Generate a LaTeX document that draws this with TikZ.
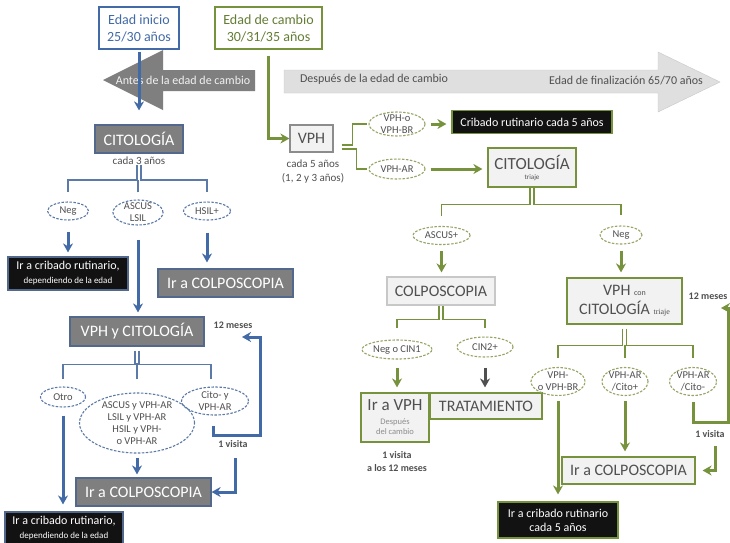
\documentclass[tikz,border=0pt]{standalone}
\usepackage{fontspec}
\setmainfont{Carlito}
\newfontfamily\triajefont{Liberation Serif}
\usetikzlibrary{arrows.meta,shapes.geometric}

\definecolor{azul}{RGB}{66,106,166}
\definecolor{azulC}{RGB}{92,122,168}
\definecolor{azulB}{RGB}{82,104,140}
\definecolor{verde}{RGB}{118,146,60}
\definecolor{verdeC}{RGB}{150,166,102}
\definecolor{grisO}{RGB}{127,127,127}
\definecolor{grisC}{RGB}{242,242,242}
\definecolor{grisF}{RGB}{223,223,223}
\definecolor{grisL}{RGB}{200,200,200}
\definecolor{grisM}{RGB}{140,140,140}
\definecolor{grisT}{RGB}{80,80,80}
\definecolor{negro}{RGB}{18,18,18}

\begin{document}
\begin{tikzpicture}[x=1pt, y=-1pt,
  box/.style={rectangle, draw, align=center, inner sep=0pt, line width=1.2pt},
  boxD/.style={box, fill=grisO, draw=azulB, text=white, font=\fontsize{16}{18}\selectfont},
  boxL/.style={box, fill=grisC, draw=verde, text=grisT, font=\fontsize{16}{18}\selectfont},
  boxK/.style={box, fill=negro, draw=azulB, text=white, font=\fontsize{12}{14}\selectfont},
  txt/.style={align=center, inner sep=0pt, text=grisT, font=\fontsize{11}{13}\selectfont},
  bold/.style={font=\bfseries\fontsize{10}{13}\selectfont},
  ovt/.style={align=center, inner sep=0pt, text=grisT, font=\fontsize{10.5}{12}\selectfont},
  ov/.style={ellipse, inner sep=0pt, line width=1.1pt, dash pattern=on 2.5pt off 1.5pt, label={[ovt]center:#1}},
  ovB/.style={ov={#1}, draw=azulC},
  ovG/.style={ov={#1}, draw=verdeC},
  arB/.style={draw=azul, line width=3pt, -{Stealth[length=9pt,width=10pt]}},
  arG/.style={draw=verde, line width=3pt, -{Stealth[length=9pt,width=10pt]}},
  arK/.style={draw=grisT, line width=3pt, -{Stealth[length=9pt,width=10pt]}},
  brB/.style={draw=azulC, line width=1.5pt},
  brG/.style={draw=verde, line width=1.5pt}
]
\useasboundingbox[fill=white] (0,0) rectangle (730,542);

% age arrows
\fill[grisO] (255,70) -- (163,70) -- (163,50) -- (103,80) -- (163,110) -- (163,91) -- (255,91) -- cycle;
\filldraw[fill=grisF, draw=grisL] (284,70) -- (658,70) -- (658,52) -- (720,82) -- (658,112) -- (658,93) -- (284,93) -- cycle;
\node[txt, text=white!90!grisO, font=\fontsize{12}{14}\selectfont] (antes) at (183,80.5) {Antes de la edad de cambio};
\node[txt, font=\fontsize{12}{14}\selectfont] (despues) at (374,79) {Después de la edad de cambio};
\node[txt, font=\fontsize{12}{14}\selectfont] (final) at (626,81) {Edad de finalización 65/70 años};

\node[box, draw=azul, text=azul, font=\fontsize{14}{17}\selectfont, minimum width=80, minimum height=42] (ini) at (139,28) {Edad inicio\\25/30 años};
\node[box, draw=verde, text=verde!85!black, font=\fontsize{14}{17}\selectfont, minimum width=107, minimum height=42] (cam) at (268.5,28) {Edad de cambio\\30/31/35 años};

% before the change age
\node[boxD, minimum width=88, minimum height=28] (cito1) at (139,139) {CITOLOGÍA};
\node[txt] (c3) at (139,161) {cada 3 años};
\node[ovB=Neg, minimum width=41, minimum height=18] (neg1) at (68,211) {};
\node[ovB={ASCUS\\LSIL}, minimum width=50, minimum height=25] (ascus1) at (138,212.5) {};
\node[ovB=HSIL+, minimum width=47, minimum height=18] (hsil1) at (207,211) {};
\node[boxK, minimum width=120, minimum height=33] (cr1) at (68,273.5) {Ir a cribado rutinario,\\{\fontsize{9}{10}\selectfont dependiendo de la edad}};
\node[boxD, minimum width=135, minimum height=28] (col1) at (225.5,283) {Ir a COLPOSCOPIA};
\node[boxD, minimum width=134, minimum height=29] (vc1) at (137,331.5) {VPH y CITOLOGÍA};
\node[txt, bold] (m12a) at (233,325) {12 meses};
\node[ovB=Otro, minimum width=45, minimum height=20] (otro1) at (63,397) {};
\node[ovB={ASCUS y VPH-AR\\LSIL y VPH-AR\\HSIL y VPH-\\o VPH-AR}, minimum width=115, minimum height=60] (asc2) at (137,423) {};
\node[ovB={Cito- y\\VPH-AR}, minimum width=67, minimum height=28] (cito2) at (215,401) {};
\node[txt, bold] (vis1) at (233,444) {1 visita};
\node[boxD, minimum width=135, minimum height=28] (col2) at (143.5,492) {Ir a COLPOSCOPIA};
\node[boxK, minimum width=118, minimum height=32] (cr2) at (64,528) {Ir a cribado rutinario,\\{\fontsize{9}{10}\selectfont dependiendo de la edad}};

% after the change age
\node[boxL, draw=grisM, minimum width=43, minimum height=27] (vph) at (311.5,138.5) {VPH};
\node[txt, font=\fontsize{11}{14.5}\selectfont] (c5) at (313,171.5) {cada 5 años\\(1, 2 y 3 años)};
\node[ovG={VPH-o\\VPH-BR}, minimum width=56, minimum height=24] (vpho) at (397,124) {};
\node[ovG=VPH-AR, minimum width=56, minimum height=20] (vphar) at (397,169) {};
\node[boxK, draw=verde, minimum width=160, minimum height=23] (crc5) at (532,122) {Cribado rutinario cada 5 años};
\node[boxL, minimum width=88, minimum height=39, font=\fontsize{7}{8}\selectfont] (cit2) at (532,167.5) {{\fontsize{17}{18}\selectfont CITOLOGÍA}\\[2pt]triaje};
\node[ovG=ASCUS+, minimum width=57, minimum height=18] (ascp) at (441.5,235.5) {};
\node[ovG=Neg, minimum width=42, minimum height=18] (neg2) at (621,235) {};
\node[boxL, draw=grisL, minimum width=108, minimum height=28] (colp) at (441,291) {COLPOSCOPIA};
\node[boxL, minimum width=115, minimum height=46] (vcc) at (624.5,301) {VPH {\fontsize{8}{9}\selectfont con}\\[1pt]CITOLOGÍA {\fontsize{8}{9}\selectfont\triajefont triaje}};
\node[txt, bold] (m12b) at (708,296) {12 meses};
\node[ovG=Neg o CIN1, minimum width=70, minimum height=19] (negcin) at (397,349.5) {};
\node[ovG=CIN2+, minimum width=56, minimum height=20] (cin2) at (485,347) {};
\node[boxL, minimum width=68, minimum height=49, font=\fontsize{8.5}{10.5}\selectfont] (irvph) at (395,417.5) {{\fontsize{17}{18}\selectfont Ir a VPH}\\[3pt]\textcolor{grisM}{Después}\\\textcolor{grisM}{del cambio}};
\node[boxL, minimum width=112, minimum height=26] (trat) at (486,406) {TRATAMIENTO};
\node[txt, bold] (v12) at (397,461.5) {1 visita\\a los 12 meses};
\node[ovG={VPH-\\o VPH-BR}, minimum width=54, minimum height=28] (vbr) at (558,381.5) {};
\node[ovG={VPH-AR\\/Cito+}, minimum width=46, minimum height=28] (vcp) at (625,381.5) {};
\node[ovG={VPH-AR\\/Cito-}, minimum width=47, minimum height=28] (vcm) at (693,381.5) {};
\node[txt, bold] (vis2) at (710,434) {1 visita};
\node[boxL, minimum width=133, minimum height=27] (col3) at (628.5,470.5) {Ir a COLPOSCOPIA};
\node[boxK, draw=verde, minimum width=120, minimum height=36] (crr) at (558,520) {Ir a cribado rutinario\\cada 5 años};

\coordinate (lp1) at (260,435);
\coordinate (lp2) at (242,337);
\coordinate (rp1) at (728,422);
\coordinate (rp2) at (721,308);

% blue side
\draw[arB, shorten <=2pt, shorten >=14pt] (ini) -- (cito1);
\draw[brB] ([xshift=-2pt]c3.south) -- ++(0,15) -| ([yshift=9pt]neg1.north);
\draw[brB] ([xshift=2pt]c3.south) -- ++(0,15) -| ([yshift=9pt]hsil1.north);
\draw[brB] ([yshift=7pt]ascus1.north) -- ++(0,-12);
\draw[arB, shorten <=11pt, shorten >=4pt] (neg1) -- (neg1 |- cr1.north);
\draw[arB, shorten <=12pt, shorten >=6pt] (hsil1) -- (hsil1 |- col1.north);
\draw[arB, shorten <=14pt, shorten >=4pt] (ascus1) -- (ascus1 |- vc1.north);
\draw[brB] ([xshift=-2pt,yshift=-4pt]vc1.south) -- ++(0,14) -| ([yshift=7pt]otro1.north);
\draw[brB] ([xshift=2pt,yshift=-4pt]vc1.south) -- ++(0,14) -| ([xshift=-4pt,yshift=7pt]cito2.north);
\draw[brB] ([yshift=13pt]asc2.north) -- ++(0,-16);
\draw[arB, shorten <=8pt, shorten >=7pt] (otro1) -- (otro1 |- cr2.north);
\draw[arB, shorten <=4pt, shorten >=3pt] (asc2) -- (asc2 |- col2.north);
\draw[arB] ([xshift=-2pt,yshift=-10pt]cito2.south) |- (lp1) |- (lp2);
\draw[arB] ([xshift=2pt,yshift=-10pt]vis1.south) |- (col2.east);

% green side
\draw[arG] ([yshift=-6pt]cam.south) |- (vph.west);
\draw[brG] ([xshift=8pt,yshift=-6.5pt]vph.east) -- ++(11,0) |- ([xshift=-1pt]vpho.west);
\draw[brG] ([xshift=8pt,yshift=-10.5pt]vph.east) -- ++(15,0) |- ([xshift=-1pt]vphar.west);
\draw[arG, shorten <=5pt, shorten >=5pt] (vpho) -- (vpho -| crc5.west);
\draw[arG, shorten <=5pt, shorten >=5pt] (vphar) -- (vphar -| cit2.west);
\draw[brG] ([xshift=-2pt]cit2.south) -- ++(0,17) -| ([yshift=10pt]ascp.north);
\draw[brG] ([xshift=2pt]cit2.south) -- ++(0,17) -| ([yshift=10pt]neg2.north);
\draw[arG, shorten <=6pt, shorten >=4pt] (ascp) -- (ascp |- colp.north);
\draw[arG, shorten <=6pt, shorten >=5pt] (neg2) -- (neg2 |- vcc.north);
\draw[brG] ([xshift=-2pt]colp.south) -- ++(0,14) -| ([yshift=11pt]negcin.north);
\draw[brG] ([xshift=2pt]colp.south) -- ++(0,14) -| ([yshift=8pt]cin2.north);
\draw[arG, shorten <=8pt, shorten >=5pt] (negcin) -- (negcin |- irvph.north);
\draw[arK, shorten <=10pt, shorten >=5pt] (cin2) -- (cin2 |- trat.north);
\draw[brG] ([xshift=-2pt,yshift=-4pt]vcc.south) -- ++(0,17) -| ([yshift=9pt]vbr.north);
\draw[brG] ([xshift=2pt,yshift=-4pt]vcc.south) -- ++(0,17) -| ([yshift=9pt]vcm.north);
\draw[brG] ([yshift=9pt]vcp.north) -- ++(0,-13);
\draw[arG, shorten <=5pt, shorten >=7pt] (vbr) -- (vbr |- crr.north);
\draw[arG, shorten <=5pt, shorten >=5pt] (vcp) -- (vcp |- col3.north);
\draw[arG] ([yshift=-6pt]vcm.south) |- (rp1) |- (rp2);
\draw[arG, shorten >=7pt] ([xshift=5pt,yshift=-8pt]vis2.south) |- (col3.east);
\end{tikzpicture}
\end{document}
